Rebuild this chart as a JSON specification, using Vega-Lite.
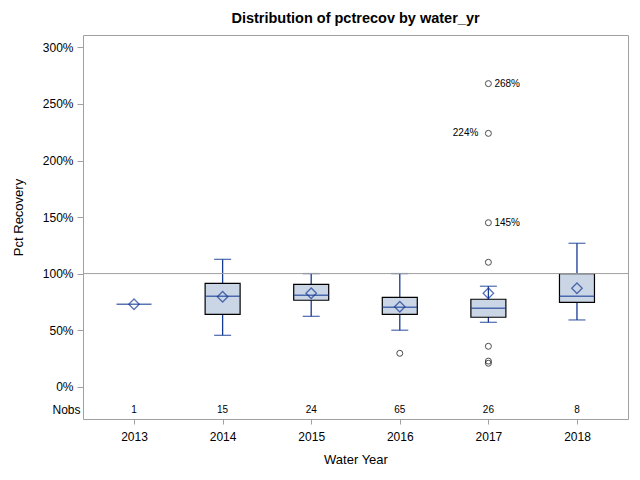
{
  "$schema": "https://vega.github.io/schema/vega-lite/v6.json",
  "width": 545,
  "height": 384,
  "autosize": {"type": "none"},
  "padding": {"left": 83, "top": 35, "right": 12, "bottom": 61},
  "background": "white",
  "title": {
    "text": "Distribution of pctrecov by water_yr",
    "font": "Liberation Sans",
    "fontSize": 14.5,
    "fontWeight": "bold",
    "color": "#000000",
    "anchor": "middle",
    "offset": 9
  },
  "config": {
    "view": {"stroke": "#a0a0a0", "strokeWidth": 1},
    "axis": {
      "labelFont": "Liberation Sans",
      "titleFont": "Liberation Sans",
      "labelFontSize": 12,
      "titleFontSize": 13,
      "titleFontWeight": "normal",
      "labelColor": "#000000",
      "titleColor": "#000000",
      "domainColor": "#a0a0a0",
      "tickColor": "#a0a0a0",
      "grid": false
    }
  },
  "datasets": {
    "boxes": [
      {"year": "2013", "lower": null, "q1": null, "median": 0.729, "q3": null, "upper": null, "mean": 0.729, "n": "1"},
      {"year": "2014", "lower": 0.454, "q1": 0.640, "median": 0.799, "q3": 0.914, "upper": 1.126, "mean": 0.795, "n": "15"},
      {"year": "2015", "lower": 0.622, "q1": 0.764, "median": 0.808, "q3": 0.905, "upper": 1.0, "mean": 0.826, "n": "24"},
      {"year": "2016", "lower": 0.499, "q1": 0.640, "median": 0.702, "q3": 0.790, "upper": 1.0, "mean": 0.707, "n": "65"},
      {"year": "2017", "lower": 0.569, "q1": 0.614, "median": 0.693, "q3": 0.773, "upper": 0.888, "mean": 0.826, "n": "26"},
      {"year": "2018", "lower": 0.590, "q1": 0.746, "median": 0.799, "q3": 1.0, "upper": 1.268, "mean": 0.870, "n": "8"}
    ],
    "outliers": [
      {"year": "2016", "value": 0.295, "label": "", "side": "right"},
      {"year": "2017", "value": 2.68, "label": "268%", "side": "right"},
      {"year": "2017", "value": 2.24, "label": "224%", "side": "left"},
      {"year": "2017", "value": 1.45, "label": "145%", "side": "right"},
      {"year": "2017", "value": 1.10, "label": "", "side": "right"},
      {"year": "2017", "value": 0.357, "label": "", "side": "right"},
      {"year": "2017", "value": 0.226, "label": "", "side": "right"},
      {"year": "2017", "value": 0.207, "label": "", "side": "right"}
    ]
  },
  "encoding": {
    "x": {
      "field": "year",
      "type": "nominal",
      "scale": {"type": "point", "padding": 0.576, "domain": ["2013", "2014", "2015", "2016", "2017", "2018"]},
      "axis": {
        "title": "Water Year",
        "labelAngle": 0,
        "tickSize": 5,
        "labelPadding": 7,
        "titlePadding": 11,
        "domain": false
      }
    }
  },
  "layer": [
    {
      "data": {"name": "boxes"},
      "mark": {"type": "rule", "color": "#153a94", "strokeWidth": 1.3},
      "encoding": {
        "y": {
          "field": "lower",
          "type": "quantitative",
          "scale": {"domain": [-0.286, 3.11], "nice": false, "zero": false},
          "axis": {
            "title": "Pct Recovery",
            "values": [-0.206, 0, 0.5, 1, 1.5, 2, 2.5, 3],
            "labelExpr": "datum.value < -0.1 ? 'Nobs' : format(datum.value * 100, 'd') + '%'",
            "tickSize": 6,
            "tickOpacity": {"condition": {"test": "datum.value < -0.1", "value": 0}, "value": 1},
            "labelPadding": {"condition": {"test": "datum.value < -0.1", "value": -3}, "value": 4},
            "titlePadding": 17,
            "titleY": 182,
            "domain": false
          }
        },
        "y2": {"field": "upper"}
      }
    },
    {
      "data": {"name": "boxes"},
      "mark": {"type": "tick", "orient": "horizontal", "size": 17, "color": "#153a94", "thickness": 1.3},
      "encoding": {"y": {"field": "lower", "type": "quantitative"}}
    },
    {
      "data": {"name": "boxes"},
      "mark": {"type": "tick", "orient": "horizontal", "size": 17, "color": "#153a94", "thickness": 1.3},
      "encoding": {"y": {"field": "upper", "type": "quantitative"}}
    },
    {
      "data": {"name": "boxes"},
      "mark": {"type": "bar", "size": 35, "fill": "#cad5e5", "stroke": "#000000", "strokeWidth": 1.2},
      "encoding": {
        "y": {"field": "q1", "type": "quantitative"},
        "y2": {"field": "q3"}
      }
    },
    {
      "data": {"name": "boxes"},
      "mark": {"type": "tick", "orient": "horizontal", "size": 35, "color": "#153a94", "thickness": 1.5},
      "encoding": {"y": {"field": "median", "type": "quantitative"}}
    },
    {
      "data": {"name": "boxes"},
      "mark": {"type": "point", "shape": "diamond", "size": 110, "filled": false, "color": "#153a94", "strokeWidth": 1.3},
      "encoding": {"y": {"field": "mean", "type": "quantitative"}}
    },
    {
      "data": {"name": "outliers"},
      "mark": {"type": "point", "shape": "circle", "size": 36, "filled": false, "color": "#000000", "strokeWidth": 1},
      "encoding": {"y": {"field": "value", "type": "quantitative"}}
    },
    {
      "data": {"name": "outliers"},
      "transform": [{"filter": "datum.side == 'right'"}],
      "mark": {"type": "text", "align": "left", "baseline": "middle", "dx": 6, "font": "Liberation Sans", "fontSize": 10, "color": "#000000"},
      "encoding": {"y": {"field": "value", "type": "quantitative"}, "text": {"field": "label"}}
    },
    {
      "data": {"name": "outliers"},
      "transform": [{"filter": "datum.side == 'left'"}],
      "mark": {"type": "text", "align": "right", "baseline": "middle", "dx": -10, "font": "Liberation Sans", "fontSize": 10, "color": "#000000"},
      "encoding": {"y": {"field": "value", "type": "quantitative"}, "text": {"field": "label"}}
    },
    {
      "data": {"name": "boxes"},
      "mark": {"type": "text", "baseline": "middle", "font": "Liberation Sans", "fontSize": 10, "color": "#000000"},
      "encoding": {"y": {"datum": -0.206, "type": "quantitative"}, "text": {"field": "n"}}
    },
    {
      "data": {"values": [{"r": 1}]},
      "mark": {"type": "rule", "color": "#a0a0a0", "strokeWidth": 1},
      "encoding": {"y": {"field": "r", "type": "quantitative"}, "x": {"value": 0}, "x2": {"value": 545}}
    }
  ]
}
